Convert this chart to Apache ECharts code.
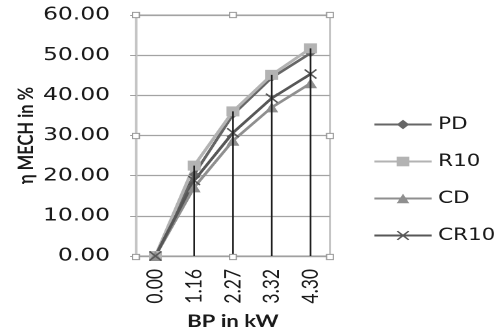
<!DOCTYPE html>
<html>
<head>
<meta charset="utf-8">
<script src="https://cdn.jsdelivr.net/npm/echarts@6/dist/echarts.min.js"></script>
<style>
  html, body { margin: 0; padding: 0; background: #fff; overflow: hidden; }
  #wrap { width: 384px; height: 335px; transform: scaleX(1.3); transform-origin: 0 0; }
  #chart { width: 384px; height: 335px; }
</style>
</head>
<body>
<div id="wrap"><div id="chart"></div></div>
<script>
// Brake power categories (kW)
const categories = ['0.00', '1.16', '2.27', '3.32', '4.30'];

// Mechanical efficiency (%) per fuel blend
const pd   = [0, 20.3, 35.2, 44.4, 50.5];
const r10  = [0, 22.5, 36.0, 45.1, 51.7];
const cd   = [0, 17.1, 28.7, 37.0, 43.0];
const cr10 = [0, 18.8, 30.7, 39.3, 45.3];

const yTicks = [0, 10, 20, 30, 40, 50, 60];

// Drop lines run from the highest point at each category down to the axis
const dropTops = categories.map((_, i) => Math.max(pd[i], r10[i], cd[i], cr10[i]));

const crossPath = 'path://M0,1 L1,0 L5,4 L9,0 L10,1 L6,5 L10,9 L9,10 L5,6 L1,10 L0,9 L4,5 Z';

const G = { left: 104.6, top: 15, width: 149.2, height: 242 };

const chart = echarts.init(document.getElementById('chart'), null, { renderer: 'canvas', devicePixelRatio: 2 });

function lineSeries(name, data, color, symbol, size, width) {
  return {
    name: name, type: 'line', data: data,
    symbol: symbol, symbolSize: size,
    lineStyle: { color: color, width: width },
    itemStyle: { color: color },
    z: 3
  };
}

// Selection-style handles on the plot frame
const handles = [];
const hx = [G.left, G.left + G.width / 2, G.left + G.width];
const hy = [G.top, G.top + G.height / 2, G.top + G.height];
hx.forEach((x, i) => hy.forEach((y, j) => {
  if (i === 1 && j === 1) return;
  handles.push({
    type: 'rect', z: 10,
    shape: { x: x - 2.6, y: y - 2.6, width: 5.2, height: 5.2 },
    style: { fill: '#fff', stroke: '#9a9a9a', lineWidth: 1 }
  });
}));

chart.setOption({
  animation: false,
  backgroundColor: '#fff',
  textStyle: { fontFamily: 'DejaVu Sans', color: '#1a1a1a' },
  grid: {
    left: G.left, top: G.top, width: G.width, height: G.height,
    show: true, borderColor: '#c4c4c4', borderWidth: 1.5, backgroundColor: 'transparent'
  },
  legend: {
    orient: 'vertical', left: 287, top: 116, padding: 0,
    itemWidth: 44, itemHeight: 12, itemGap: 20,
    data: ['PD', 'R10', 'CD', 'CR10'],
    textStyle: { fontFamily: 'DejaVu Sans', fontSize: 16.5, color: '#1a1a1a' }
  },
  xAxis: {
    type: 'category', data: categories, boundaryGap: true,
    name: 'BP in kW', nameLocation: 'middle', nameGap: 57,
    nameTextStyle: { fontFamily: 'Lato', fontWeight: 'bold', fontSize: 17, color: '#1a1a1a' },
    axisLine: { show: true, lineStyle: { color: '#a0a0a0', width: 1.2 } },
    axisTick: { show: false },
    axisLabel: { rotate: 90, margin: 13, fontFamily: 'Lato', fontSize: 17.5, color: '#1a1a1a' },
    splitLine: { show: false }
  },
  yAxis: {
    type: 'value', min: yTicks[0], max: yTicks[yTicks.length - 1], interval: 10,
    name: 'η MECH in %', nameLocation: 'middle', nameGap: 76, nameRotate: 90,
    nameTextStyle: { fontFamily: 'Lato', fontWeight: 'bold', fontSize: 16.5, color: '#1a1a1a' },
    axisLine: { show: true, lineStyle: { color: '#c4c4c4', width: 1.5 } },
    axisTick: { show: true, inside: false, length: 4.5, lineStyle: { color: '#a0a0a0' } },
    axisLabel: { margin: 20, fontFamily: 'DejaVu Sans', fontSize: 18, color: '#1a1a1a',
      formatter: v => v.toFixed(2) },
    splitLine: { show: true, lineStyle: { color: '#a3a3a3', width: 1.2 } }
  },
  series: [
    lineSeries('PD', pd, '#666666', 'diamond', 8, 2.4),
    lineSeries('R10', r10, '#b3b3b3', 'rect', 10, 2.6),
    lineSeries('CD', cd, '#8f8f8f', 'triangle', 10, 2.4),
    lineSeries('CR10', cr10, '#575757', crossPath, 10, 2.4),
    {
      name: 'drop', type: 'bar', data: dropTops, barWidth: 1.3,
      itemStyle: { color: '#1e1e1e' }, silent: true, z: 5
    }
  ],
  graphic: handles
});
</script>
</body>
</html>
